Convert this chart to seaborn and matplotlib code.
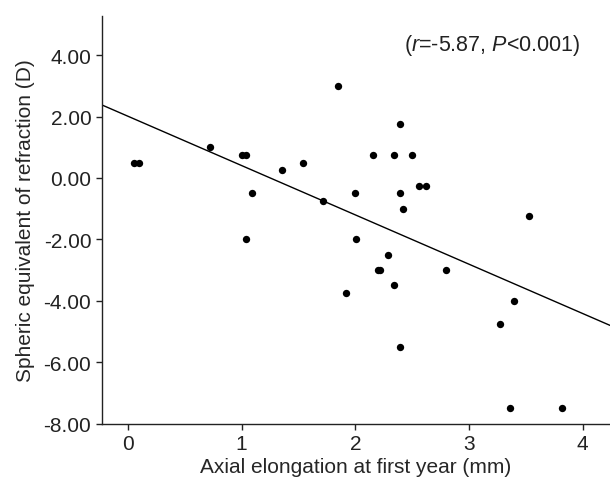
import matplotlib
matplotlib.use("Agg")
import matplotlib.pyplot as plt
import seaborn as sns
import pandas as pd

# Data
axial_elongation = [0.05, 0.10, 0.72, 1.00, 1.04, 1.09, 1.04, 1.36, 1.54, 1.72, 1.85,
                    2.00, 2.01, 1.92, 2.16, 2.20, 2.22, 2.29, 2.34, 2.34, 2.39, 2.39,
                    2.42, 2.39, 2.50, 2.56, 2.62, 2.80, 3.27, 3.40, 3.53, 3.36, 3.82]
spheric_equiv = [0.5, 0.5, 1.0, 0.75, 0.75, -0.5, -2.0, 0.25, 0.5, -0.75, 3.0,
                 -0.5, -2.0, -3.75, 0.75, -3.0, -3.0, -2.5, 0.75, -3.5, 1.75, -0.5,
                 -1.0, -5.5, 0.75, -0.25, -0.25, -3.0, -4.75, -4.0, -1.25, -7.5, -7.5]

# Regression line (intercept, slope)
reg_intercept = 2.01
reg_slope = -1.607

x_ticks = [0, 1, 2, 3, 4]
y_ticks = [4, 2, 0, -2, -4, -6, -8]

df = pd.DataFrame({"x": axial_elongation, "y": spheric_equiv})

sns.set_style("ticks")
plt.rcParams["font.family"] = ["Liberation Sans", "DejaVu Sans"]
plt.rcParams["mathtext.fontset"] = "custom"
plt.rcParams["mathtext.rm"] = "Liberation Sans"
plt.rcParams["mathtext.it"] = "Liberation Sans:italic"

fig = plt.figure(figsize=(6.1, 4.89), dpi=100)
ax = fig.add_axes([0.1667, 0.1319, 0.8333, 0.8331])

sns.scatterplot(data=df, x="x", y="y", color="black", s=28, linewidth=0, ax=ax, zorder=3)
ax.axline((0, reg_intercept), slope=reg_slope, color="black", linewidth=1.0, zorder=2)

ax.set_xlim(-0.23, 4.24)
ax.set_ylim(-8.0, 5.27)
ax.set_xticks(x_ticks)
ax.set_yticks(y_ticks)
ax.set_yticklabels([f"{v:.2f}" for v in y_ticks])

ax.set_xlabel("Axial elongation at first year (mm)", fontsize=15, labelpad=3)
ax.set_ylabel("Spheric equivalent of refraction (D)", fontsize=15, labelpad=6)
ax.tick_params(axis="both", labelsize=15, length=4.5, width=1, pad=3,
               color="#222222", labelcolor="#222222")

sns.despine(ax=ax, top=True, right=True)
for side in ["left", "bottom"]:
    ax.spines[side].set_linewidth(1)
    ax.spines[side].set_color("#222222")

ax.text(2.43, 4.36, r"($\mathit{r}$=-5.87, $\mathit{P}$<0.001)", fontsize=15.5,
        ha="left", va="center", color="#222222")

fig.savefig("out.png", dpi=100)
